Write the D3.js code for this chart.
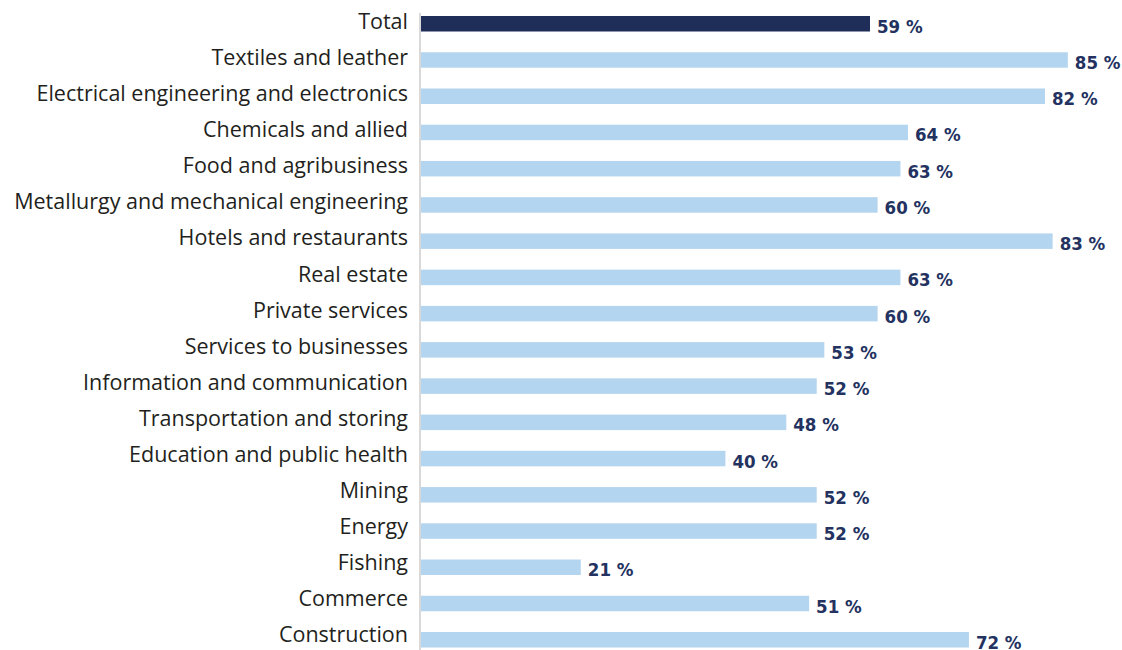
<!DOCTYPE html>
<html>
<head>
<meta charset="utf-8">
<script src="https://cdn.jsdelivr.net/npm/d3@7"></script>
<style>
body { margin: 0; background: #fff; }
</style>
</head>
<body>
<div id="chart"></div>
<script>
// sectors, top to bottom
let sectors = ['Total', 'Textiles and leather', 'Electrical engineering and electronics',
  'Chemicals and allied', 'Food and agribusiness', 'Metallurgy and mechanical engineering',
  'Hotels and restaurants', 'Real estate', 'Private services', 'Services to businesses',
  'Information and communication', 'Transportation and storing', 'Education and public health',
  'Mining', 'Energy', 'Fishing', 'Commerce', 'Construction']

let shares = [59, 85, 82, 64, 63, 60, 83, 63, 60, 53, 52, 48, 40, 52, 52, 21, 51, 72]

let width = 1122
let height = 650

let svg = d3.select('#chart')
.append('svg')
.attr('width', width)
.attr('height', height)

let x = d3.scaleLinear()
.domain([0, 100])
.range([421, 1182])

// bar centres
let y = d3.scalePoint()
.domain(sectors)
.range([23.75, 639.75])

// category labels sit on their own slightly tighter grid (baselines)
let y_lab = d3.scalePoint()
.domain(sectors)
.range([29, 642.3])

let bar_h = 15.5

// left axis line
svg.append('line')
.attr('x1', 420)
.attr('x2', 420)
.attr('y1', 13)
.attr('y2', height)
.attr('stroke', '#d9d9d9')
.attr('stroke-width', 2)

let rows = svg.selectAll('g.row')
.data(sectors)
.enter()
.append('g')
.attr('class', 'row')

rows.append('rect')
.attr('x', x(0))
.attr('y', d => y(d) - bar_h / 2)
.attr('width', (d, i) => x(shares[i]) - x(0))
.attr('height', bar_h)
.attr('fill', d => d == 'Total' ? '#1f2d59' : '#b4d5ef')

rows.append('text')
.attr('x', 408)
.attr('y', d => y_lab(d))
.attr('text-anchor', 'end')
.style('font-family', '"Open Sans", sans-serif')
.style('font-size', '21.5px')
.attr('fill', '#231f20')
.text(d => d)

rows.append('text')
.attr('x', (d, i) => x(shares[i]) + 7)
.attr('y', d => y(d) + 9)
.attr('text-anchor', 'start')
.style('font-family', '"DejaVu Sans Condensed", sans-serif')
.style('font-weight', 'bold')
.style('font-size', '18.5px')
.attr('fill', '#233260')
.text((d, i) => shares[i] + ' %')
</script>
</body>
</html>
